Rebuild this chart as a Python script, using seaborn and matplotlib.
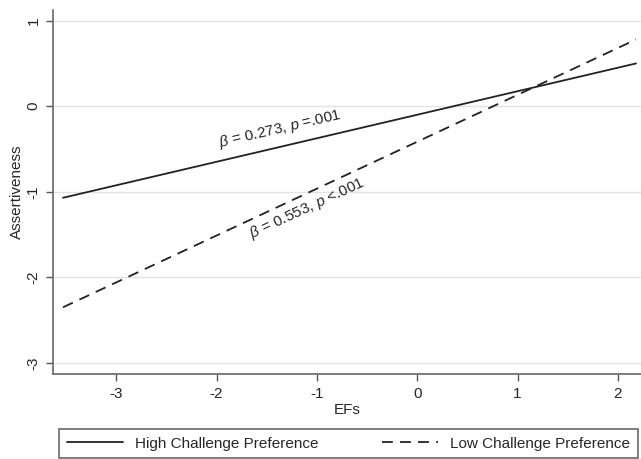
import pandas as pd
import matplotlib
matplotlib.use("Agg")
import matplotlib.pyplot as plt
import seaborn as sns
from matplotlib.lines import Line2D

# valores
efs = [-3.53, 2.18]
alta_desafio = [-1.07, 0.50]
baixa_desafio = [-2.35, 0.78]
grupos = ["High Challenge Preference", "Low Challenge Preference"]
x_ticks = [-3, -2, -1, 0, 1, 2]
y_ticks = [-3, -2, -1, 0, 1]

sns.set_style("white")
plt.rcParams['font.family'] = ['Liberation Sans', 'DejaVu Sans']
plt.rcParams['mathtext.fontset'] = 'custom'
plt.rcParams['mathtext.rm'] = 'Liberation Sans'
plt.rcParams['mathtext.it'] = 'Liberation Sans:italic'
plt.rcParams['axes.unicode_minus'] = False

df = pd.DataFrame({
    'EFs': efs + efs,
    'Assertiveness': alta_desafio + baixa_desafio,
    'grupo': [grupos[0]] * 2 + [grupos[1]] * 2,
})

fig = plt.figure(figsize=(6.41, 4.59), dpi=100)
ax = fig.add_axes([53 / 641, 85 / 459, 588 / 641, 364 / 459])

for y in y_ticks:
    ax.axhline(y, color='#e3e3e3', lw=1, zorder=0)

sns.lineplot(data=df, x='EFs', y='Assertiveness', style='grupo',
             dashes={grupos[0]: '', grupos[1]: (6, 4)},
             color='#222222', lw=1.3, ax=ax, legend=False)

ax.set_xlim(-3.63, 2.23)
ax.set_ylim(-3.13, 1.125)
ax.set_xticks(x_ticks)
ax.set_yticks(y_ticks)
ax.set_yticklabels([str(v) for v in y_ticks], rotation=90, va='center')
ax.tick_params(axis='both', bottom=True, left=True, direction='out', length=5,
               width=1, color='#555555', labelsize=11, pad=4)
for s in ['top', 'right']:
    ax.spines[s].set_visible(False)
for s in ['left', 'bottom']:
    ax.spines[s].set_color('#666666')
    ax.spines[s].set_linewidth(1.2)
ax.set_xlabel('EFs', fontsize=11, labelpad=2)
ax.set_ylabel('Assertiveness', fontsize=11, labelpad=2)

ax.text(-1.37, -0.26, r'$\beta$ = 0.273, $p$ =.001', rotation=13.2,
        rotation_mode='anchor', ha='center', va='center', fontsize=11)
ax.text(-1.10, -1.19, r'$\beta$ = 0.553, $p$ <.001', rotation=25,
        rotation_mode='anchor', ha='center', va='center', fontsize=11)

# legenda embaixo, cortada na borda inferior como no original
handles = [Line2D([], [], color='#222222', lw=1.3),
           Line2D([], [], color='#222222', lw=1.3, dashes=(6, 4))]
leg = fig.legend(handles, grupos, loc='upper left', ncol=2, mode='expand',
                 bbox_to_anchor=(59 / 641, 0, 579 / 641, 30 / 459),
                 bbox_transform=fig.transFigure, fontsize=11, frameon=True,
                 fancybox=False, borderaxespad=0, handlelength=3.7,
                 handletextpad=0.8, columnspacing=1.5, borderpad=0.5)
leg.get_frame().set_edgecolor('#444444')
leg.get_frame().set_linewidth(1.2)

fig.savefig('out.png', dpi=100)
